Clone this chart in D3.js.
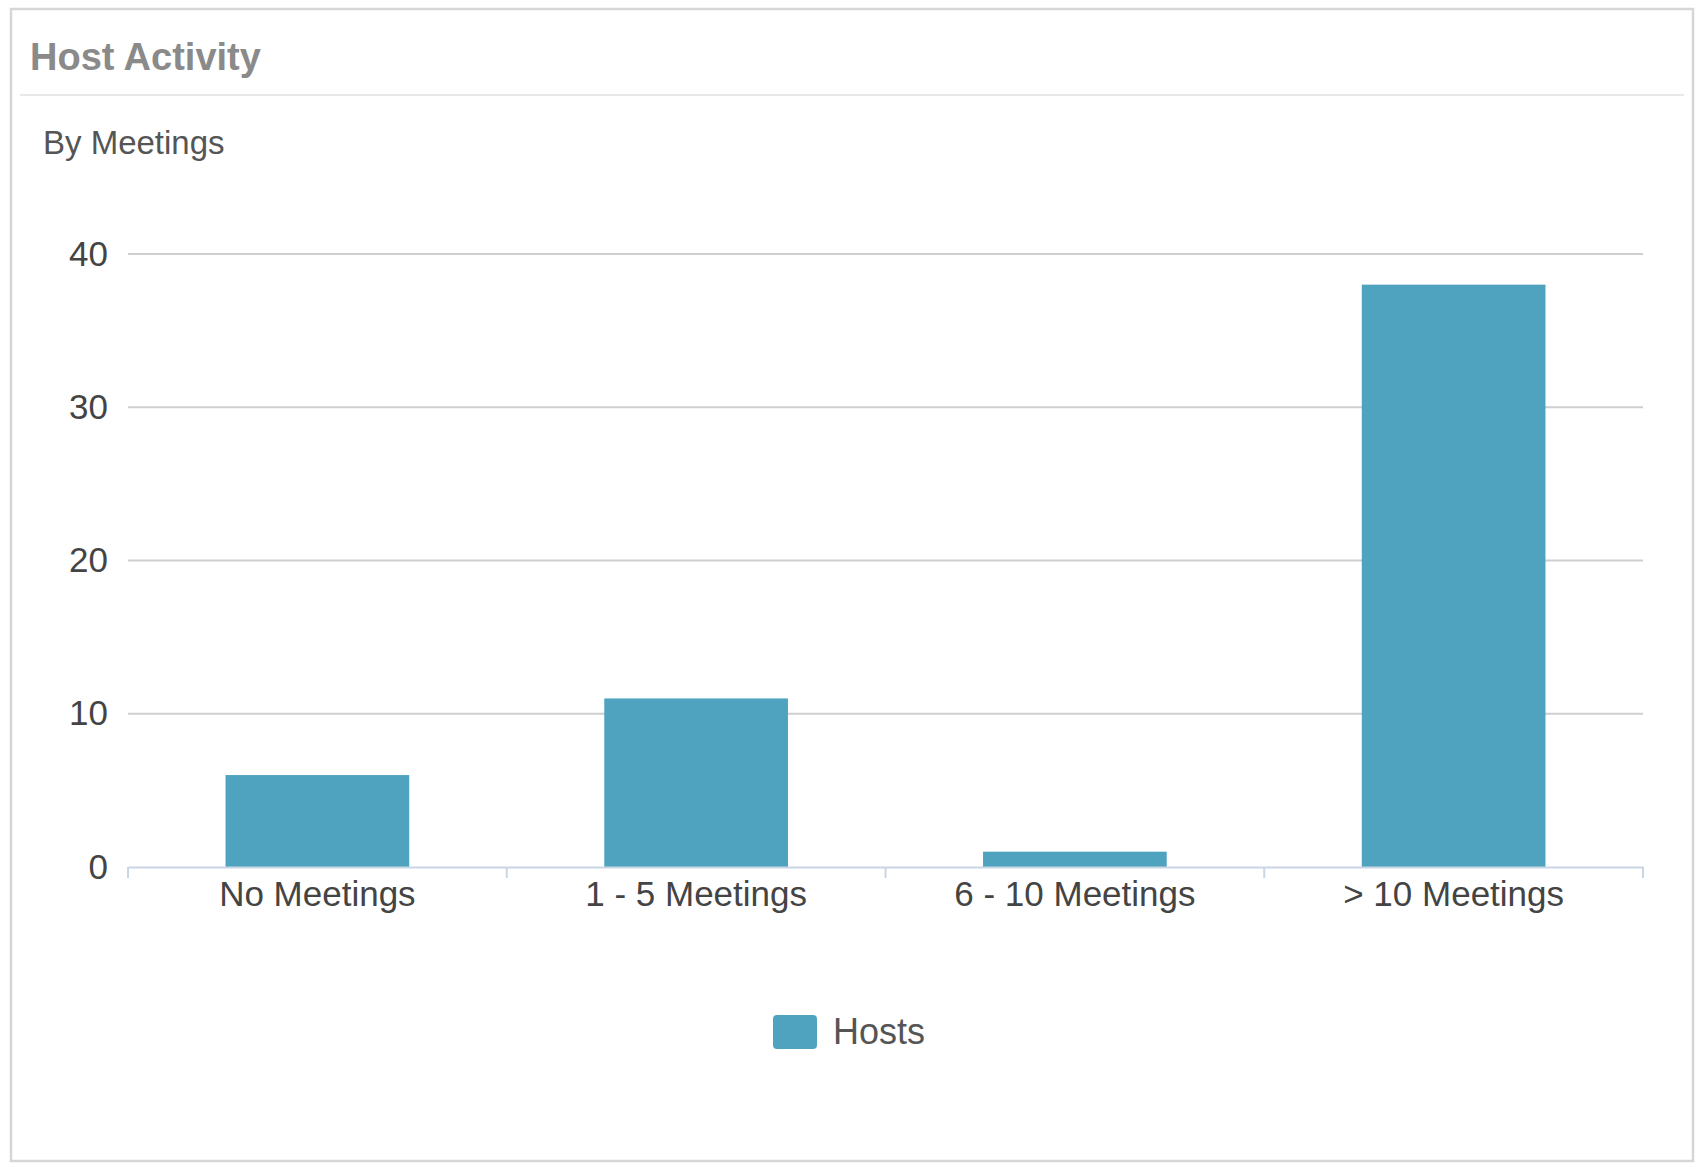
<!DOCTYPE html>
<html><head><meta charset="utf-8">
<script src="https://cdn.jsdelivr.net/npm/d3@7"></script>
<style>body{margin:0;background:#fff}text{font-family:"Liberation Sans",Arial,sans-serif}</style>
</head><body>
<svg width="1704" height="1167"></svg>
<script>
const categories = ['No Meetings','1 - 5 Meetings','6 - 10 Meetings','> 10 Meetings'];
const hosts = [6, 11, 1, 38];
const yTicks = [0, 10, 20, 30, 40];
const color = '#4fa3bf';

const svg = d3.select('svg');
svg.append('rect').attr('x',11).attr('y',9).attr('width',1682).attr('height',1152)
  .attr('fill','#fff').attr('stroke','#d6d6d6').attr('stroke-width',2.5);
svg.append('text').attr('x',30).attr('y',70).text('Host Activity')
  .attr('font-family','Lato,sans-serif').attr('font-weight','bold').attr('font-size',38).attr('fill','#8a8a8a');
svg.append('line').attr('x1',20).attr('x2',1684).attr('y1',95).attr('y2',95).attr('stroke','#e8e8e8').attr('stroke-width',2);
svg.append('text').attr('x',43).attr('y',154).text('By Meetings')
  .attr('font-family','"Open Sans",sans-serif').attr('font-size',33).attr('fill','#555');

var x = d3.scaleBand().domain(categories).range([128,1643]).paddingInner(0.515).paddingOuter(0.2575);
var y = d3.scaleLinear().domain([0,40]).range([867,254]);

svg.append('g').selectAll('line').data(yTicks.slice(1)).enter().append('line')
  .attr('x1',128).attr('x2',1643).attr('y1',d=>y(d)).attr('y2',d=>y(d))
  .attr('stroke','#cfcfcf').attr('stroke-width',2);

svg.append('g').selectAll('rect').data(hosts).enter().append('rect')
  .attr('x',(d,i)=>x(categories[i])).attr('width',x.bandwidth())
  .attr('y',d=>y(d)).attr('height',d=>y(0)-y(d)).attr('fill',color);

var ya = svg.append('g').attr('transform','translate(128,0)')
  .call(d3.axisLeft(y).tickValues(yTicks).tickSize(0).tickPadding(20));
ya.select('.domain').remove();
ya.selectAll('text').attr('font-size',35).attr('fill','#444').attr('font-family','"Liberation Sans",Arial,sans-serif');

var band = d3.scaleBand().domain(categories).range([128,1643]);
var xa = svg.append('g').attr('transform','translate(0,867)')
  .call(d3.axisBottom(band).tickSize(0).tickPadding(14));
xa.select('.domain').attr('stroke','#c8d6e5').attr('stroke-width',2);
xa.selectAll('text').attr('font-size',35).attr('fill','#444').attr('font-family','"Liberation Sans",Arial,sans-serif');
svg.append('g').selectAll('line').data(d3.range(categories.length+1)).enter().append('line')
  .attr('x1',d=>128+d*band.step()).attr('x2',d=>128+d*band.step())
  .attr('y1',867).attr('y2',878).attr('stroke','#c8d6e5').attr('stroke-width',2);

svg.append('rect').attr('x',773).attr('y',1015).attr('width',44).attr('height',34).attr('rx',4).attr('fill',color);
svg.append('text').attr('x',833).attr('y',1044).text('Hosts').attr('font-size',36).attr('fill','#555');
</script>
</body></html>
